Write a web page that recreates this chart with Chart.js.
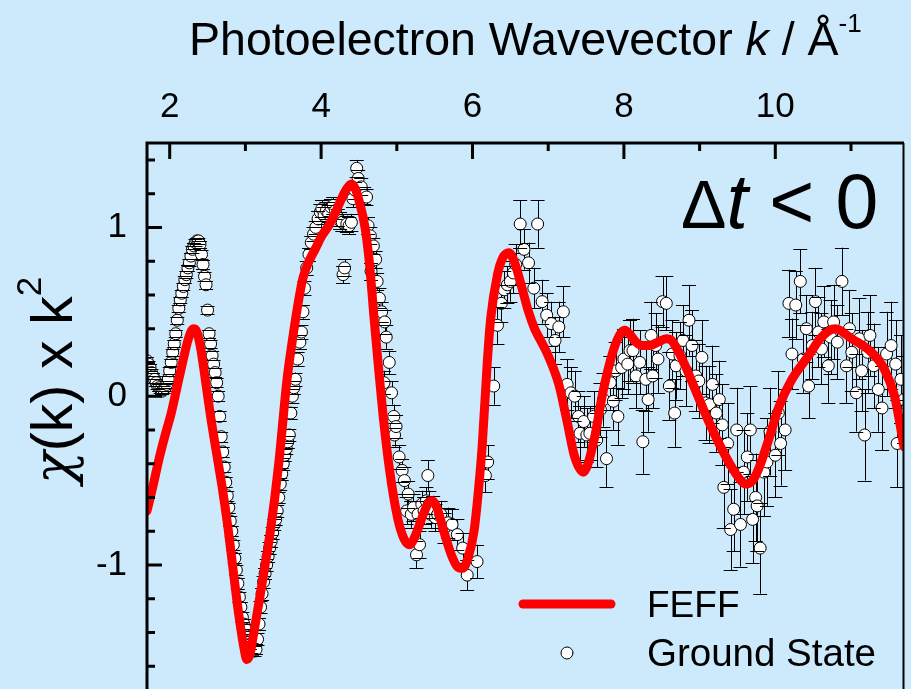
<!DOCTYPE html>
<html>
<head>
<meta charset="utf-8">
<script src="https://cdn.jsdelivr.net/npm/chart.js@4.4.1/dist/chart.umd.min.js"></script>
<style>
  html, body { margin: 0; padding: 0; background: #cceafc; overflow: hidden; }
  #wrap { width: 911px; height: 707px; }
</style>
</head>
<body>
<div id="wrap"><canvas id="chart" width="911" height="707"></canvas></div>
<script>
// axis ticks
const xTickValues = [2, 3, 4, 5, 6, 7, 8, 9, 10, 11];
const xTickLabels = [2, 4, 6, 8, 10];
const yTickValues = [-1.8, -1.6, -1.4, -1.2, -1, -0.8, -0.6, -0.4, -0.2, 0, 0.2, 0.4, 0.6, 0.8, 1, 1.2, 1.4];
const yTickLabels = [-1, 0, 1];

// FEFF fit curve
const feffK = [1.70, 1.78, 1.865, 1.94, 2.02, 2.10, 2.17, 2.24, 2.29, 2.32, 2.36, 2.41, 2.47, 2.54, 2.62,
  2.70, 2.77, 2.83, 2.89, 2.94, 2.98, 3.02, 3.06, 3.10, 3.18, 3.26, 3.33, 3.44, 3.55, 3.63, 3.70, 3.76,
  3.84, 3.92, 4.01, 4.10, 4.19, 4.27, 4.34, 4.40, 4.45, 4.50, 4.58, 4.64, 4.70, 4.76, 4.82, 4.905, 5.01,
  5.10, 5.17, 5.25, 5.35, 5.42, 5.47, 5.53, 5.62, 5.72, 5.80, 5.87, 5.94, 6.02, 6.08, 6.13, 6.195, 6.24,
  6.33, 6.40, 6.48, 6.55, 6.63, 6.74, 6.82, 6.90, 7.00, 7.14, 7.245, 7.35, 7.465, 7.60, 7.73, 7.86, 7.94,
  8.01, 8.09, 8.16, 8.25, 8.34, 8.45, 8.56, 8.63, 8.69, 8.82, 8.95, 9.13, 9.30, 9.48, 9.61, 9.70, 9.78,
  9.91, 10.05, 10.22, 10.44, 10.61, 10.79, 11.01, 11.27, 11.44, 11.575, 11.70];
const feffChi = [-0.68, -0.53, -0.36, -0.23, -0.10, 0.06, 0.20, 0.33, 0.39, 0.40, 0.38, 0.28, 0.10, -0.12, -0.34,
  -0.56, -0.78, -1.00, -1.22, -1.38, -1.49, -1.56, -1.53, -1.43, -1.22, -1.00, -0.80, -0.40, 0.10, 0.36, 0.56, 0.70,
  0.80, 0.87, 0.95, 1.01, 1.09, 1.17, 1.23, 1.257, 1.23, 1.16, 1.00, 0.78, 0.46, 0.16, -0.12, -0.44, -0.72,
  -0.85, -0.88, -0.82, -0.70, -0.63, -0.62, -0.66, -0.80, -0.94, -1.01, -1.02, -0.96, -0.80, -0.55, -0.28, 0.20, 0.46,
  0.72, 0.82, 0.85, 0.80, 0.68, 0.50, 0.40, 0.33, 0.24, 0.07, -0.14, -0.36, -0.45, -0.27, 0.04, 0.27, 0.36,
  0.39, 0.36, 0.32, 0.30, 0.30, 0.32, 0.34, 0.33, 0.29, 0.17, 0.03, -0.16, -0.32, -0.46, -0.52, -0.50, -0.43,
  -0.26, -0.06, 0.10, 0.24, 0.35, 0.40, 0.34, 0.26, 0.16, 0.00, -0.30];

// Ground State measurement
const gsK = [
  1.70, 1.72, 1.74, 1.76, 1.78, 1.80, 1.82, 1.84, 1.86, 1.88, 1.90, 1.92, 1.94, 1.96, 1.98, 2.00, 2.02, 2.04,
  2.06, 2.08, 2.10, 2.12, 2.14, 2.16, 2.18, 2.20, 2.22, 2.24, 2.26, 2.28, 2.30, 2.32, 2.34, 2.36, 2.38, 2.40,
  2.42, 2.44, 2.46, 2.48, 2.50, 2.52, 2.54, 2.56, 2.58, 2.60, 2.62,
  2.64, 2.66, 2.68, 2.70, 2.72, 2.74, 2.76, 2.78, 2.80, 2.82, 2.84, 2.86, 2.88, 2.90, 2.92, 2.94, 2.96, 2.98,
  3.00, 3.02, 3.04, 3.06, 3.08, 3.10, 3.12, 3.14,
  3.16, 3.18, 3.20, 3.22, 3.24, 3.26, 3.28, 3.30, 3.32, 3.34, 3.36, 3.38, 3.40, 3.42, 3.44, 3.46, 3.48, 3.50,
  3.52, 3.54, 3.56, 3.58, 3.60,
  3.62, 3.64, 3.66, 3.69, 3.72, 3.74, 3.76, 3.78, 3.81, 3.84, 3.87, 3.90, 3.93,
  3.96, 3.99, 4.01, 4.04, 4.07, 4.10, 4.13, 4.16, 4.19, 4.22, 4.25, 4.28, 4.29, 4.31, 4.34, 4.37, 4.40, 4.42,
  4.45, 4.47, 4.49, 4.53, 4.57, 4.60, 4.62, 4.65, 4.66, 4.69, 4.72, 4.74,
  4.77, 4.80, 4.83, 4.84, 4.86, 4.90, 4.93, 4.96, 4.97, 4.99, 5.03, 5.07, 5.10, 5.13, 5.15, 5.19, 5.22, 5.26,
  5.28, 5.30, 5.33, 5.36, 5.39, 5.41, 5.43, 5.45, 5.48, 5.51, 5.54, 5.58, 5.63, 5.68, 5.73, 5.80, 5.87, 5.93, 6.06,
  6.17, 6.20, 6.28, 6.33, 6.38, 6.42, 6.46, 6.50, 6.54, 6.57, 6.63, 6.68, 6.74, 6.81, 6.86, 6.92, 6.98, 7.04,
  7.09, 7.14, 7.20,
  7.25, 7.30, 7.35, 7.40, 7.42, 7.47, 7.51, 7.55, 7.60, 7.64, 7.69, 7.73, 7.77, 7.82, 7.86, 7.89, 7.92, 7.97,
  8.00, 8.05, 8.08, 8.12, 8.16, 8.21, 8.25, 8.29, 8.32, 8.36, 8.38, 8.42, 8.45, 8.51, 8.56, 8.60, 8.64, 8.67,
  8.69, 8.74, 8.78, 8.82, 8.86, 8.90, 8.95, 8.99,
  9.03, 9.08, 9.13, 9.17, 9.22, 9.26, 9.30, 9.32, 9.37, 9.41, 9.45, 9.49, 9.54, 9.58, 9.63, 9.67, 9.70, 9.74,
  9.76, 9.80, 9.85, 9.89, 9.93, 10.00, 10.04, 10.07, 10.13,
  10.18, 10.22, 10.27, 10.33, 10.37, 10.41, 10.44, 10.49, 10.53, 10.57, 10.61, 10.64, 10.70, 10.73, 10.77,
  10.82, 10.88, 10.94, 10.98, 11.01, 11.07, 11.11, 11.14, 11.18, 11.22, 11.25, 11.30, 11.36, 11.41, 11.47,
  11.53, 11.59, 11.61, 11.66, 11.70];
const gsChi = [
  0.21, 0.19, 0.17, 0.14, 0.12, 0.10, 0.08, 0.06, 0.05, 0.04, 0.03, 0.04, 0.05, 0.07, 0.10, 0.15, 0.20, 0.26,
  0.31, 0.37, 0.45, 0.52, 0.57, 0.61, 0.65, 0.69, 0.72, 0.76, 0.79, 0.83, 0.87, 0.89, 0.91, 0.92, 0.92, 0.90,
  0.84, 0.78, 0.71, 0.66, 0.51, 0.37, 0.31, 0.24, 0.19, 0.14, 0.08,
  0.00, -0.12, -0.24, -0.33, -0.42, -0.51, -0.59, -0.66, -0.74, -0.80, -0.88, -0.96, -1.03, -1.11, -1.19, -1.25, -1.31, -1.35,
  -1.38, -1.42, -1.45, -1.47, -1.49, -1.50, -1.51, -1.50,
  -1.44, -1.35, -1.25, -1.17, -1.10, -1.05, -1.00, -0.95, -0.90, -0.86, -0.81, -0.76, -0.73, -0.68, -0.60, -0.52, -0.46, -0.40,
  -0.35, -0.31, -0.27, -0.23, -0.10,
  0.00, 0.05, 0.10, 0.22, 0.32, 0.38, 0.50, 0.64, 0.76, 0.84, 0.91, 0.96, 1.00,
  1.05, 1.09, 1.11, 1.07, 1.10, 1.08, 1.12, 1.13, 1.10, 1.06, 1.04, 1.03, 0.72, 0.76, 1.02, 1.01, 1.03, 1.17,
  1.22, 1.35, 1.29, 1.24, 1.19, 1.18, 1.01, 0.95, 0.74, 0.89, 0.81, 0.68,
  0.58, 0.50, 0.08, 0.44, 0.35, 0.20, 0.02, -0.12, -0.23, -0.18, -0.36, -0.44, -0.50, -0.68, -0.58, -0.70, -0.66, -0.94,
  -0.70, -0.88, -0.64, -0.68, -0.62, -0.47, -0.64, -0.70, -0.67, -0.72, -0.70, -0.70, -0.78, -0.75, -0.76, -0.82, -0.90, -1.06, -0.98,
  -0.47, -0.39, 0.06, 0.42, 0.55, 0.63, 0.66, 0.68, 0.73, 0.78, 1.02, 0.87, 0.79, 0.64, 1.02, 0.56, 0.48, 0.43,
  0.33, 0.41, 0.50,
  0.07, 0.02, 0.00, -0.12, -0.22, -0.15, -0.23, -0.22, -0.12, -0.26, -0.08, -0.02, -0.37, 0.08, -0.03, 0.15, -0.12, 0.17,
  0.22, 0.19, 0.27, 0.27, 0.12, 0.20, -0.27, 0.10, -0.02, 0.36, 0.12, 0.30, 0.22, 0.56, 0.55, 0.06, 0.25, -0.10,
  0.18, 0.24, 0.33, 0.15, 0.45, 0.30, 0.12, 0.09,
  0.23, -0.04, -0.05, 0.07, -0.10, -0.02, -0.17, -0.54, -0.28, -0.79, -0.67, -0.20, -0.76, -0.45, -0.36, -0.20, -0.73, -0.60,
  -0.65, -0.90, -0.45, -0.39, -0.21, -0.35, -0.10, -0.28, -0.20,
  0.55, 0.25, 0.54, 0.68, 0.22, 0.40, 0.06, 0.30, 0.56, 0.38, 0.28, 0.44, 0.18, 0.35, 0.44,
  0.32, 0.68, 0.18, 0.40, 0.26, 0.02, 0.34, 0.15, -0.23, 0.26, 0.36, 0.18, 0.04, -0.07, 0.25,
  0.30, 0.19, -0.28, 0.10, -0.02];
const gsErr = [
  0.02, 0.02, 0.02, 0.02, 0.02, 0.02, 0.02, 0.02, 0.02, 0.02, 0.02, 0.02, 0.02, 0.02, 0.02, 0.02, 0.02, 0.02,
  0.02, 0.02, 0.02, 0.02, 0.02, 0.02, 0.02, 0.02, 0.02, 0.02, 0.02, 0.02, 0.02, 0.02, 0.02, 0.02, 0.02, 0.02,
  0.025, 0.025, 0.025, 0.025, 0.025, 0.025, 0.025, 0.025, 0.025, 0.025, 0.025,
  0.03, 0.03, 0.03, 0.03, 0.03, 0.03, 0.03, 0.03, 0.03, 0.03, 0.03, 0.03, 0.03, 0.03, 0.03, 0.03, 0.03, 0.03,
  0.03, 0.03, 0.03, 0.03, 0.03, 0.03, 0.03, 0.03,
  0.035, 0.035, 0.035, 0.035, 0.035, 0.035, 0.035, 0.035, 0.035, 0.035, 0.035, 0.035, 0.035, 0.035, 0.035, 0.035, 0.035, 0.035,
  0.035, 0.035, 0.035, 0.035, 0.035,
  0.04, 0.04, 0.04, 0.04, 0.04, 0.04, 0.04, 0.04, 0.04, 0.04, 0.04, 0.04, 0.04,
  0.05, 0.05, 0.05, 0.05, 0.05, 0.05, 0.05, 0.05, 0.05, 0.05, 0.05, 0.05, 0.05, 0.05, 0.05, 0.05, 0.05, 0.05,
  0.05, 0.05, 0.05, 0.05, 0.05, 0.05, 0.05, 0.05, 0.05, 0.05, 0.05, 0.05,
  0.06, 0.06, 0.07, 0.07, 0.07, 0.07, 0.07, 0.07, 0.07, 0.07, 0.07, 0.07, 0.08, 0.08, 0.08, 0.08, 0.08, 0.08,
  0.08, 0.08, 0.08, 0.08, 0.08, 0.09, 0.08, 0.08, 0.08, 0.08, 0.08, 0.08, 0.09, 0.09, 0.09, 0.09, 0.09, 0.09, 0.10,
  0.10, 0.10, 0.11, 0.11, 0.11, 0.11, 0.11, 0.12, 0.12, 0.12, 0.14, 0.12, 0.12, 0.12, 0.14, 0.13, 0.13, 0.13,
  0.14, 0.15, 0.15,
  0.15, 0.15, 0.15, 0.15, 0.16, 0.15, 0.16, 0.16, 0.15, 0.16, 0.16, 0.16, 0.17, 0.16, 0.17, 0.17, 0.17, 0.18,
  0.18, 0.18, 0.18, 0.19, 0.19, 0.19, 0.19, 0.19, 0.19, 0.20, 0.19, 0.19, 0.20, 0.15, 0.16, 0.20, 0.20, 0.20,
  0.20, 0.20, 0.21, 0.21, 0.21, 0.21, 0.21, 0.22,
  0.22, 0.22, 0.23, 0.23, 0.23, 0.23, 0.24, 0.24, 0.24, 0.24, 0.25, 0.25, 0.25, 0.25, 0.26, 0.26, 0.26, 0.26,
  0.27, 0.27, 0.26, 0.26, 0.26, 0.25, 0.25, 0.25, 0.24,
  0.20, 0.21, 0.20, 0.19, 0.20, 0.20, 0.19, 0.20, 0.20, 0.21, 0.21, 0.21, 0.22, 0.22, 0.22,
  0.22, 0.20, 0.22, 0.23, 0.23, 0.23, 0.24, 0.24, 0.27, 0.24, 0.24, 0.25, 0.25, 0.25, 0.25,
  0.26, 0.26, 0.26, 0.26, 0.26];

const FONT = "'Liberation Sans', Arial, Helvetica, sans-serif";
const BG = '#cceafc';

// 배경 칠하기
const background = {
  id: 'background',
  beforeDraw(chart) {
    const ctx = chart.ctx;
    ctx.save();
    ctx.fillStyle = BG;
    ctx.fillRect(0, 0, chart.width, chart.height);
    ctx.restore();
  }
};

// error bars: stems under the circles, caps on top
const errorBars = {
  id: 'errorBars',
  beforeDatasetDraw(chart, args) {
    if (args.index !== 1) return;
    const { ctx, chartArea: a, scales: { x, y } } = chart;
    ctx.save();
    ctx.beginPath();
    ctx.rect(a.left, a.top, a.right - a.left, a.bottom - a.top);
    ctx.clip();
    ctx.strokeStyle = '#000';
    ctx.lineWidth = 1;
    ctx.beginPath();
    for (let i = 0; i < gsK.length; i++) {
      const px = Math.round(x.getPixelForValue(gsK[i])) + 0.5;
      ctx.moveTo(px, y.getPixelForValue(gsChi[i] + gsErr[i]));
      ctx.lineTo(px, y.getPixelForValue(gsChi[i] - gsErr[i]));
    }
    ctx.stroke();
    ctx.restore();
  },
  afterDatasetDraw(chart, args) {
    if (args.index !== 1) return;
    const { ctx, chartArea: a, scales: { x, y } } = chart;
    ctx.save();
    ctx.beginPath();
    ctx.rect(a.left, a.top, a.right - a.left, a.bottom - a.top);
    ctx.clip();
    ctx.strokeStyle = '#000';
    ctx.lineWidth = 1;
    ctx.beginPath();
    for (let i = 0; i < gsK.length; i++) {
      const px = x.getPixelForValue(gsK[i]);
      const top = Math.round(y.getPixelForValue(gsChi[i] + gsErr[i])) + 0.5;
      const bot = Math.round(y.getPixelForValue(gsChi[i] - gsErr[i])) + 0.5;
      ctx.moveTo(px - 7, top); ctx.lineTo(px + 7, top);
      ctx.moveTo(px - 7, bot); ctx.lineTo(px + 7, bot);
    }
    ctx.stroke();
    ctx.restore();
  }
};

// frame and inward ticks
const frame = {
  id: 'frame',
  afterDatasetsDraw(chart) {
    const { ctx, chartArea: a, scales: { x, y } } = chart;
    ctx.save();
    ctx.strokeStyle = '#000';
    ctx.lineWidth = 3;
    ctx.beginPath();
    ctx.moveTo(a.left, chart.height);
    ctx.lineTo(a.left, a.top);
    ctx.lineTo(a.right, a.top);
    ctx.stroke();
    ctx.lineWidth = 2;
    ctx.beginPath();
    ctx.moveTo(a.right - 0.5, a.top);
    ctx.lineTo(a.right - 0.5, chart.height);
    ctx.stroke();
    ctx.lineWidth = 3;
    ctx.beginPath();
    x.ticks.forEach(t => {
      const px = x.getPixelForValue(t.value);
      const len = xTickLabels.includes(t.value) ? 16 : 8;
      ctx.moveTo(px, a.top);
      ctx.lineTo(px, a.top + len);
    });
    y.ticks.forEach(t => {
      const py = y.getPixelForValue(t.value);
      const len = yTickLabels.includes(t.value) ? 15 : 8;
      ctx.moveTo(a.left, py);
      ctx.lineTo(a.left + len, py);
    });
    ctx.stroke();
    ctx.restore();
  }
};

// text pieces drawn one after another
function drawRuns(ctx, runs, x, y) {
  runs.forEach(r => {
    ctx.font = r.font;
    ctx.fillText(r.text, x, y + (r.dy || 0));
    x += ctx.measureText(r.text).width;
  });
}

// titles, annotation and legend
const annotations = {
  id: 'annotations',
  afterDraw(chart) {
    const ctx = chart.ctx;
    const feff = chart.data.datasets[0];
    const gs = chart.data.datasets[1];
    ctx.save();
    ctx.fillStyle = '#000';
    ctx.textBaseline = 'alphabetic';
    ctx.textAlign = 'left';

    // x title
    drawRuns(ctx, [
      { text: 'Photoelectron Wavevector ', font: '46.5px ' + FONT },
      { text: 'k', font: 'italic 46.5px ' + FONT },
      { text: ' / Å', font: '46.5px ' + FONT },
      { text: '-1', font: '26px ' + FONT, dy: -23 }
    ], 189, 55);

    // y title
    ctx.save();
    ctx.translate(72, 484);
    ctx.rotate(-Math.PI / 2);
    drawRuns(ctx, [
      { text: 'χ', font: 'italic 54px "DejaVu Serif", serif' },
      { text: '(k) x k', font: '57px ' + FONT },
      { text: '2', font: '35px ' + FONT, dy: -31 }
    ], 0, 0);
    ctx.restore();

    // delta t
    drawRuns(ctx, [
      { text: 'Δ', font: '68px ' + FONT },
      { text: 't', font: 'italic 77px ' + FONT },
      { text: ' < 0', font: '77px ' + FONT }
    ], 681, 228);

    // legend
    ctx.strokeStyle = feff.borderColor;
    ctx.lineWidth = feff.borderWidth;
    ctx.lineCap = 'round';
    ctx.beginPath();
    ctx.moveTo(523, 604);
    ctx.lineTo(611, 604);
    ctx.stroke();
    ctx.beginPath();
    ctx.arc(567, 653, gs.pointRadius, 0, Math.PI * 2);
    ctx.fillStyle = gs.pointBackgroundColor;
    ctx.fill();
    ctx.lineWidth = gs.pointBorderWidth;
    ctx.strokeStyle = gs.pointBorderColor;
    ctx.stroke();
    ctx.fillStyle = '#000';
    ctx.font = '37px ' + FONT;
    ctx.fillText(feff.label, 647, 617);
    ctx.font = '38.5px ' + FONT;
    ctx.fillText(gs.label, 647, 666);
    ctx.restore();
  }
};

const ctx = document.getElementById('chart').getContext('2d');
const chart = new Chart(ctx, {
  type: 'scatter',
  data: {
    datasets: [{
      label: 'FEFF',
      data: feffK.map((k, i) => ({ x: k, y: feffChi[i] })),
      showLine: true,
      borderColor: '#ff0000',
      borderWidth: 9,
      borderCapStyle: 'round',
      borderJoinStyle: 'round',
      cubicInterpolationMode: 'monotone',
      pointRadius: 0,
      pointHoverRadius: 0,
      clip: 0,
      order: 0
    }, {
      label: 'Ground State',
      data: gsK.map((k, i) => ({ x: k, y: gsChi[i] })),
      pointRadius: 6,
      pointHoverRadius: 6,
      pointBackgroundColor: '#ffffff',
      pointBorderColor: '#000000',
      pointBorderWidth: 1,
      clip: 0,
      order: 1
    }]
  },
  options: {
    responsive: false,
    animation: false,
    events: [],
    layout: { padding: { left: 0, top: 0, right: 1.5, bottom: 7 } },
    plugins: {
      legend: { display: false },
      tooltip: { enabled: false }
    },
    scales: {
      x: {
        type: 'linear',
        position: 'top',
        min: 1.7,
        max: 11.7,
        afterBuildTicks: (scale) => { scale.ticks = xTickValues.map(v => ({ value: v })); },
        afterFit: (scale) => {
          scale.height = 143;
          scale.paddingLeft = 0;
          scale.paddingRight = 0;
        },
        grid: { display: false, drawTicks: false },
        border: { display: false },
        ticks: {
          autoSkip: false,
          maxRotation: 0,
          padding: 15,
          color: '#000',
          font: { size: 35, family: FONT },
          callback: (v) => xTickLabels.includes(v) ? String(v) : ''
        }
      },
      y: {
        type: 'linear',
        min: -1.8,
        max: 1.5,
        afterBuildTicks: (scale) => { scale.ticks = yTickValues.map(v => ({ value: v })); },
        afterFit: (scale) => {
          scale.width = 147;
          scale.paddingTop = 0;
          scale.paddingBottom = 0;
        },
        grid: { display: false, drawTicks: false },
        border: { display: false },
        ticks: {
          autoSkip: false,
          padding: 20,
          color: '#000',
          font: { size: 35, family: FONT },
          callback: (v) => yTickLabels.includes(v) ? String(v) : ''
        }
      }
    }
  },
  plugins: [background, errorBars, frame, annotations]
});
</script>
</body>
</html>
